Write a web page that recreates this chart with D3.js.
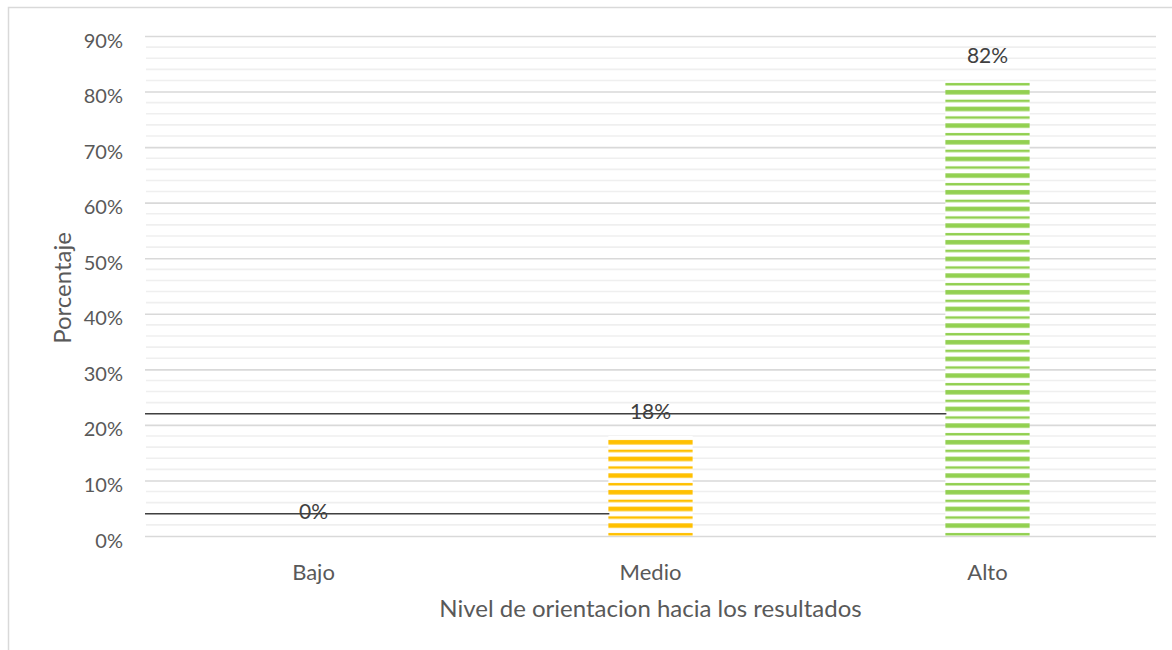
<!DOCTYPE html>
<html><head><meta charset="utf-8">
<script src="https://cdn.jsdelivr.net/npm/d3@7"></script>
<style>body{margin:0;background:#fff;} svg{display:block;font-family:Lato, "Open Sans", sans-serif;}</style>
</head><body><svg id="c" width="1172" height="650"></svg>
<script>
const categories = ["Bajo", "Medio", "Alto"];
const values = [0, 0.18, 0.82];
const valueLabels = ["0%", "18%", "82%"];
const barColors = ["#A5A5A5", "#FFC000", "#92D050"];
const yTicks = [0, 0.1, 0.2, 0.3, 0.4, 0.5, 0.6, 0.7, 0.8, 0.9];
const yTickLabels = ["0%", "10%", "20%", "30%", "40%", "50%", "60%", "70%", "80%", "90%"];
const minorTicks = [0.02, 0.04, 0.06, 0.08, 0.12, 0.14, 0.16, 0.18, 0.22, 0.24, 0.26, 0.28,
  0.32, 0.34, 0.36, 0.38, 0.42, 0.44, 0.46, 0.48, 0.52, 0.54, 0.56, 0.58,
  0.62, 0.64, 0.66, 0.68, 0.72, 0.74, 0.76, 0.78, 0.82, 0.84, 0.86, 0.88];
const refLineValues = [0.22, 0.04];
const refLineEnds = ["Alto", "Medio"];
const xTitle = "Nivel de orientacion hacia los resultados";
const yTitle = "Porcentaje";

(function () {
const svg = d3.select("#c");
const pLeft = 145, pRight = 1156, pTop = 36, pBottom = 536;

svg.append("rect").attr("x", 8.5).attr("y", 7.5).attr("width", 1200).attr("height", 700)
  .attr("fill", "#fff").attr("stroke", "#d9d9d9").attr("stroke-width", 1.5);

const x = d3.scaleBand().domain(categories).range([pLeft, pRight]).paddingInner(0.75).paddingOuter(0.375);
const y = d3.scaleLinear().domain([0, 0.9]).range([pBottom, pTop]);

svg.append("g").selectAll("line").data(minorTicks).join("line")
  .attr("x1", pLeft + 1).attr("x2", pRight).attr("y1", d => y(d)).attr("y2", d => y(d))
  .attr("stroke", "#efefef").attr("stroke-width", 1.6);

const yAxis = d3.axisLeft(y).tickValues(yTicks).tickSize(-(pRight - pLeft)).tickFormat((d, i) => yTickLabels[i]).tickPadding(22);
const ga = svg.append("g").attr("transform", `translate(${pLeft},0)`).call(yAxis);
ga.select(".domain").remove();
ga.selectAll(".tick line").attr("stroke", "#d9d9d9").attr("stroke-width", 1.6);
ga.selectAll(".tick text").attr("fill", "#595959").attr("font-size", 20).attr("dy", "0.55em")
  .attr("font-family", "Lato, sans-serif");

const period = y(0) - y(0.03);
const defs = svg.append("defs");
barColors.forEach((c, i) => {
  const p = defs.append("pattern").attr("id", "stripe" + i).attr("patternUnits", "userSpaceOnUse")
    .attr("width", 20).attr("height", period)
    .attr("patternTransform", `translate(0,${y(0) % period})`);
  p.append("rect").attr("width", 20).attr("height", period).attr("fill", "#fff");
  p.append("rect").attr("y", period * 0.24).attr("width", 20).attr("height", period * 0.27).attr("fill", c);
  p.append("rect").attr("y", period * 0.82).attr("width", 20).attr("height", period * 0.15).attr("fill", c);
});

svg.append("g").selectAll("rect").data(categories).join("rect")
  .attr("x", d => x(d)).attr("width", x.bandwidth())
  .attr("y", (d, i) => y(values[i])).attr("height", (d, i) => y(0) - y(values[i]))
  .attr("fill", (d, i) => `url(#stripe${i})`);

svg.append("g").selectAll("line").data(refLineValues).join("line")
  .attr("x1", pLeft).attr("x2", (d, i) => x(refLineEnds[i]) + 1)
  .attr("y1", d => y(d)).attr("y2", d => y(d))
  .attr("stroke", "#404040").attr("stroke-width", 1.5);

svg.append("g").selectAll("text").data(categories).join("text")
  .attr("x", d => x(d) + x.bandwidth() / 2).attr("y", (d, i) => y(values[i]) - 17)
  .attr("text-anchor", "middle").attr("fill", "#404040").attr("font-size", 21)
  .text((d, i) => valueLabels[i]);

const xAxis = d3.axisBottom(x).tickSize(0).tickPadding(28);
const gx = svg.append("g").attr("transform", `translate(0,${pBottom})`).call(xAxis);
gx.select(".domain").remove();
gx.selectAll(".tick text").attr("fill", "#595959").attr("font-size", 22).attr("font-family", "Lato, sans-serif");

svg.append("text").attr("x", (pLeft + pRight) / 2).attr("y", 617).attr("text-anchor", "middle")
  .attr("fill", "#595959").attr("font-size", 24).text(xTitle);
svg.append("text").attr("transform", `translate(71,${288}) rotate(-90)`)
  .attr("text-anchor", "middle").attr("fill", "#595959").attr("font-size", 24).text(yTitle);
})();
</script></body></html>
